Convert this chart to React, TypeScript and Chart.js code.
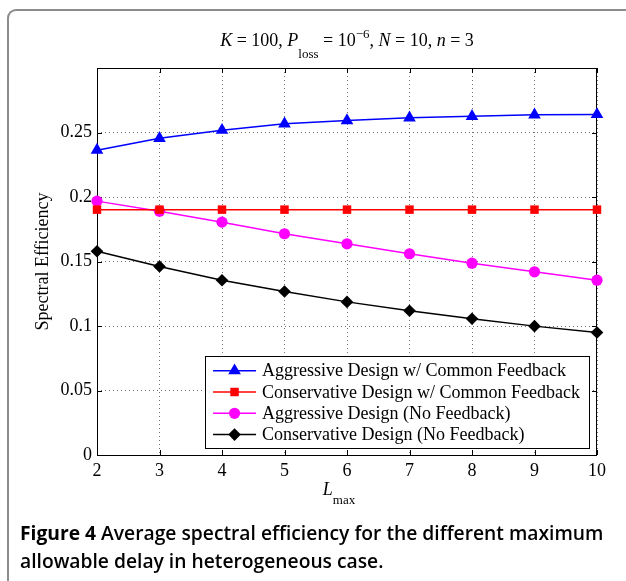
import React, { useEffect, useRef } from 'react';
import { Chart, registerables } from 'chart.js';

Chart.register(...registerables);

// ---------- data ----------
const lMax = [2, 3, 4, 5, 6, 7, 8, 9, 10];
const aggressiveCommon = [0.2363, 0.2455, 0.2518, 0.2567, 0.2593, 0.2614, 0.2626, 0.2637, 0.264];
const conservativeCommon = [0.1902, 0.1902, 0.1902, 0.1902, 0.1902, 0.1902, 0.1902, 0.1902, 0.1902];
const aggressiveNoFeedback = [0.1968, 0.189, 0.1805, 0.1715, 0.1637, 0.156, 0.1487, 0.142, 0.1355];
const conservativeNoFeedback = [0.158, 0.1461, 0.1355, 0.1267, 0.1187, 0.1118, 0.1056, 0.0999, 0.095];
const seriesLabels = [
  'Aggressive Design w/ Common Feedback',
  'Conservative Design w/ Common Feedback',
  'Aggressive Design (No Feedback)',
  'Conservative Design (No Feedback)',
];
const seriesColors = ['#0000ff', '#ff0000', '#ff00ff', '#000000'];
const seriesMarkers = ['triangle', 'rect', 'circle', 'rectRot'];
const seriesRadius = [7.3, 6, 5.6, 6.3];
const yTickStep = 0.05;
const yMin = 0;
const yMax = 0.3;
const xMin = 2;
const xMax = 10;
const yAxisLabel = 'Spectral Efficiency';
const captionBold = 'Figure 4';
const captionLine1 = ' Average spectral efficiency for the different maximum';
const captionLine2 = 'allowable delay in heterogeneous case.';

const SERIF = '"Liberation Serif", "DejaVu Serif", serif';
const FS = 18;

type Seg = { t: string; italic?: boolean; size?: number; dy?: number };
const titleSegs: Seg[] = [
  { t: 'K', italic: true },
  { t: ' = 100, ' },
  { t: 'P', italic: true },
  { t: 'loss', size: 13, dy: 12 },
  { t: ' = 10' },
  { t: '\u22126', size: 13, dy: -8 },
  { t: ', ' },
  { t: 'N', italic: true },
  { t: ' = 10, ' },
  { t: 'n', italic: true },
  { t: ' = 3' },
];
const xLabelSegs: Seg[] = [
  { t: 'L', italic: true },
  { t: 'max', size: 13, dy: 9 },
];

function drawRich(ctx: CanvasRenderingContext2D, segs: Seg[], cx: number, baseline: number, base: number) {
  const fontOf = (s: Seg) => `${s.italic ? 'italic ' : ''}${s.size || base}px ${SERIF}`;
  let total = 0;
  const widths = segs.map((s) => {
    ctx.font = fontOf(s);
    const w = ctx.measureText(s.t).width;
    total += w;
    return w;
  });
  let x = cx - total / 2;
  ctx.textAlign = 'left';
  ctx.textBaseline = 'alphabetic';
  ctx.fillStyle = '#000';
  segs.forEach((s, i) => {
    ctx.font = fontOf(s);
    ctx.fillText(s.t, x, baseline + (s.dy || 0));
    x += widths[i];
  });
}

function drawMarker(ctx: CanvasRenderingContext2D, style: string, x: number, y: number, r: number, color: string) {
  ctx.save();
  ctx.fillStyle = color;
  ctx.beginPath();
  if (style === 'triangle') {
    let rad = 0;
    ctx.moveTo(x + Math.sin(rad) * r, y - Math.cos(rad) * r);
    rad += (2 * Math.PI) / 3;
    ctx.lineTo(x + Math.sin(rad) * r, y - Math.cos(rad) * r);
    rad += (2 * Math.PI) / 3;
    ctx.lineTo(x + Math.sin(rad) * r, y - Math.cos(rad) * r);
    ctx.closePath();
  } else if (style === 'rect') {
    const s = Math.SQRT1_2 * r;
    ctx.rect(x - s, y - s, 2 * s, 2 * s);
  } else if (style === 'circle') {
    ctx.arc(x, y, r, 0, Math.PI * 2);
  } else {
    ctx.moveTo(x - r, y);
    ctx.lineTo(x, y - r);
    ctx.lineTo(x + r, y);
    ctx.lineTo(x, y + r);
    ctx.closePath();
  }
  ctx.fill();
  ctx.restore();
}

const framePlugin = {
  id: 'matlabFrame',
  beforeDatasetsDraw(chart: any) {
    const { ctx, chartArea: a, scales } = chart;
    ctx.save();
    ctx.strokeStyle = '#000';
    ctx.lineWidth = 1;
    ctx.setLineDash([]);
    ctx.strokeRect(a.left + 0.5, a.top + 0.5, a.right - a.left - 1, a.bottom - a.top);
    const tl = 5;
    ctx.beginPath();
    scales.x.ticks.forEach((t: any) => {
      const px = Math.round(scales.x.getPixelForValue(t.value)) + 0.5;
      ctx.moveTo(px, a.bottom);
      ctx.lineTo(px, a.bottom - tl);
      ctx.moveTo(px, a.top);
      ctx.lineTo(px, a.top + tl);
    });
    scales.y.ticks.forEach((t: any) => {
      const py = Math.round(scales.y.getPixelForValue(t.value)) + 0.5;
      ctx.moveTo(a.left, py);
      ctx.lineTo(a.left + tl, py);
      ctx.moveTo(a.right, py);
      ctx.lineTo(a.right - tl, py);
    });
    ctx.stroke();
    ctx.restore();
  },
  afterDatasetsDraw(chart: any) {
    const { ctx, chartArea: a } = chart;
    ctx.save();
    // legend
    ctx.font = `${FS}px ${SERIF}`;
    const datasets = chart.data.datasets;
    let maxW = 0;
    datasets.forEach((d: any) => {
      maxW = Math.max(maxW, ctx.measureText(d.label).width);
    });
    const boxW = 57 + maxW + 9;
    const rowH = 21.3;
    const boxH = 92;
    const right = a.right - 8;
    const bottom = a.bottom - 7;
    const left = right - boxW;
    const top = bottom - boxH;
    ctx.fillStyle = '#fff';
    ctx.fillRect(left, top, boxW, boxH);
    ctx.strokeStyle = '#000';
    ctx.lineWidth = 1;
    ctx.strokeRect(Math.round(left) + 0.5, Math.round(top) + 0.5, Math.round(boxW), Math.round(boxH));
    datasets.forEach((d: any, i: number) => {
      const y = top + 14.7 + i * rowH;
      ctx.strokeStyle = d.borderColor;
      ctx.lineWidth = 1.5;
      ctx.beginPath();
      ctx.moveTo(left + 8, y);
      ctx.lineTo(left + 51, y);
      ctx.stroke();
      drawMarker(ctx, d.pointStyle, left + 29.5, y, d.pointRadius, d.borderColor);
      ctx.fillStyle = '#000';
      ctx.font = `${FS}px ${SERIF}`;
      ctx.textAlign = 'left';
      ctx.textBaseline = 'middle';
      ctx.fillText(d.label, left + 57, y + 1);
    });
    ctx.restore();
  },
  afterDraw(chart: any) {
    const { ctx, chartArea: a } = chart;
    ctx.save();
    const cx = (a.left + a.right) / 2;
    drawRich(ctx, titleSegs, cx, 46, FS);
    drawRich(ctx, xLabelSegs, cx - 8, 495, FS);
    ctx.translate(43, (a.top + a.bottom) / 2);
    ctx.rotate(-Math.PI / 2);
    ctx.font = `${FS}px ${SERIF}`;
    ctx.fillStyle = '#000';
    ctx.textAlign = 'center';
    ctx.textBaseline = 'middle';
    ctx.fillText(yAxisLabel, 0, 0);
    ctx.restore();
  },
};

export default function App() {
  const ref = useRef<HTMLCanvasElement | null>(null);

  useEffect(() => {
    if (!ref.current) return;
    const series = [aggressiveCommon, conservativeCommon, aggressiveNoFeedback, conservativeNoFeedback];
    const chart = new Chart(ref.current, {
      type: 'line',
      data: {
        datasets: series.map((vals, i) => ({
          label: seriesLabels[i],
          data: lMax.map((x, j) => ({ x, y: vals[j] })),
          borderColor: seriesColors[i],
          backgroundColor: seriesColors[i],
          pointBackgroundColor: seriesColors[i],
          pointBorderColor: seriesColors[i],
          pointBorderWidth: 0,
          pointStyle: seriesMarkers[i] as any,
          pointRadius: seriesRadius[i],
          borderWidth: 1.5,
          tension: 0,
          clip: false as any,
        })),
      },
      options: {
        responsive: false,
        animation: false,
        events: [],
        layout: { padding: { left: 0, top: 68, right: 29, bottom: 25 } },
        plugins: {
          legend: { display: false },
          title: { display: false },
          tooltip: { enabled: false },
        },
        scales: {
          x: {
            type: 'linear',
            min: xMin,
            max: xMax,
            ticks: {
              stepSize: 1,
              autoSkip: false,
              maxRotation: 0,
              color: '#000',
              padding: 5,
              font: { family: SERIF, size: FS },
            },
            grid: { color: 'rgba(0,0,0,0.55)', lineWidth: 1, drawTicks: false },
            border: { display: false, dash: [1, 3] },
            afterFit(scale: any) {
              scale.height = 40;
            },
          },
          y: {
            type: 'linear',
            min: yMin,
            max: yMax,
            ticks: {
              stepSize: yTickStep,
              color: '#000',
              padding: 5,
              font: { family: SERIF, size: FS },
              callback: (v: any) => (Number(v) > yMax - 1e-6 ? '' : String(Number(Number(v).toFixed(2)))),
            },
            grid: { color: 'rgba(0,0,0,0.55)', lineWidth: 1, drawTicks: false },
            border: { display: false, dash: [1, 3] },
            afterFit(scale: any) {
              scale.width = 97;
            },
          },
        },
      },
      plugins: [framePlugin],
    });
    return () => chart.destroy();
  }, []);

  return (
    <div style={{ position: 'absolute', left: 0, top: 0, width: 626, height: 581, overflow: 'hidden', background: '#fff' }}>
      <div
        style={{
          position: 'absolute',
          left: 7,
          top: 9,
          width: 700,
          height: 700,
          borderLeft: '2px solid #8c8c8c',
          borderTop: '2px solid #8c8c8c',
          borderTopLeftRadius: 9,
        }}
      />
      <canvas ref={ref} width={626} height={520} style={{ position: 'absolute', left: 0, top: 0, width: 626, height: 520 }} />
      <div
        style={{
          position: 'absolute',
          left: 20,
          top: 519,
          whiteSpace: 'nowrap',
          fontFamily: '"Open Sans", "Noto Sans", sans-serif',
          fontSize: 19.25,
          fontWeight: 600,
          lineHeight: '28px',
          color: '#000',
        }}
      >
        <span style={{ fontWeight: 700 }}>{captionBold}</span>
        {captionLine1}
        <br />
        {captionLine2}
      </div>
    </div>
  );
}
